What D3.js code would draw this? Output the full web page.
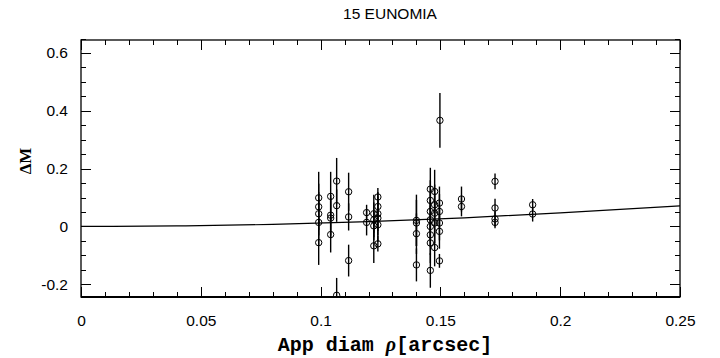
<!DOCTYPE html>
<html><head><meta charset="utf-8">
<script src="https://cdn.jsdelivr.net/npm/d3@7"></script>
<style>body{margin:0;background:#fff}svg{display:block}</style>
</head><body>
<script>
// ---- data ----
const title = "15 EUNOMIA";
const xLabel = "App diam ";
const yLabel = "ΔM";
const xTickVals = [0, 0.05, 0.1, 0.15, 0.2, 0.25];
const xTickLabels = ["0", "0.05", "0.1", "0.15", "0.2", "0.25"];
const yTickVals = [-0.2, 0, 0.2, 0.4, 0.6];
const yTickLabels = ["-0.2", "0", "0.2", "0.4", "0.6"];
const rho = [
  0.0992,0.0992,0.0992,0.0992,0.0992,
  0.1042,0.1042,0.1042,0.1042,
  0.1067,0.1067,0.1067,
  0.1117,0.1117,0.1117,
  0.1192,0.1192,
  0.1222,0.1222,0.1222,0.1222,
  0.1239,0.1239,0.1239,0.1239,0.1239,0.1239,
  0.140,0.140,0.140,0.140,
  0.1458,0.1458,0.1458,0.1458,0.1458,0.1458,0.1458,0.1458,
  0.1476,0.1476,0.1476,0.1476,0.1476,
  0.1496,0.1496,0.1496,0.1496,0.1496,
  0.1498,
  0.1588,0.1588,
  0.1728,0.1728,0.1728,0.1728,
  0.1885,0.1885
];
const dM = [
  0.099,0.068,0.044,0.014,-0.056,
  0.104,0.039,0.029,-0.028,
  0.157,0.072,-0.238,
  0.120,0.033,-0.118,
  0.048,0.014,
  0.044,0.023,0.002,-0.067,
  0.102,0.069,0.044,0.029,0.006,-0.060,
  0.021,0.012,-0.025,-0.133,
  0.129,0.090,0.052,0.023,0.000,-0.029,-0.057,-0.152,
  0.121,0.075,0.046,0.012,-0.073,
  0.081,0.052,0.012,-0.017,-0.119,
  0.367,
  0.095,0.069,
  0.156,0.064,0.026,0.014,
  0.075,0.043
];
const err = [
  0.090,0.080,0.075,0.080,0.077,
  0.085,0.070,0.070,0.062,
  0.080,0.056,0.060,
  0.066,0.047,0.055,
  0.027,0.045,
  0.066,0.060,0.050,0.059,
  0.031,0.050,0.060,0.060,0.060,0.027,
  0.089,0.080,0.070,0.057,
  0.074,0.070,0.070,0.070,0.070,0.070,0.070,0.060,
  0.075,0.070,0.070,0.070,0.065,
  0.057,0.060,0.060,0.060,0.024,
  0.095,
  0.043,0.034,
  0.027,0.032,0.026,0.020,
  0.020,0.026
];
// model curve
const curveRho = [0, 0.04, 0.08, 0.12, 0.16, 0.2, 0.25];
const curveDM  = [0, 0.002, 0.007, 0.017, 0.030, 0.047, 0.071];

// ---- layout ----
const W = 720, H = 358;
const L = 81, R = 680, T = 40, B = 297;
const x = d3.scaleLinear().domain([0, 0.25]).range([L, R]);
const y = d3.scaleLinear().domain([-0.244, 0.645]).range([B, T]);

const svg = d3.select("body").append("svg").attr("width", W).attr("height", H);
const font = "'Liberation Sans', Arial, Helvetica, sans-serif";

svg.append("defs").append("clipPath").attr("id", "clip")
  .append("rect").attr("x", L).attr("y", T).attr("width", R - L).attr("height", B - T);

// ticks: minor + major, all four sides, inward
const xMinor = d3.range(0, 0.2501, 0.01);
const yMinor = d3.range(-0.2, 0.6501, 0.05);
const tg = svg.append("g").attr("stroke", "#000").attr("stroke-width", 1);
function isMajor(v, step) { return Math.abs(v / step - Math.round(v / step)) < 1e-6; }
xMinor.forEach(v => {
  const len = isMajor(v, 0.05) ? 10 : 5;
  const px = Math.round(x(v)) + 0.5;
  tg.append("line").attr("x1", px).attr("x2", px).attr("y1", B).attr("y2", B - len);
  tg.append("line").attr("x1", px).attr("x2", px).attr("y1", T).attr("y2", T + len);
});
yMinor.forEach(v => {
  const len = isMajor(v, 0.2) ? 10 : 5;
  const py = Math.round(y(v)) + 0.5;
  tg.append("line").attr("x1", L).attr("x2", L + len).attr("y1", py).attr("y2", py);
  tg.append("line").attr("x1", R).attr("x2", R - len).attr("y1", py).attr("y2", py);
});

// frame
svg.append("rect").attr("x", L).attr("y", T).attr("width", R - L).attr("height", B - T)
  .attr("fill", "none").attr("stroke", "#000").attr("stroke-width", 1.3);
svg.append("line").attr("x1", L).attr("x2", R).attr("y1", B).attr("y2", B)
  .attr("stroke", "#000").attr("stroke-width", 2.2);

// axes labels via d3 axes (no domain path / tick lines)
const xAxis = d3.axisBottom(x).tickValues(xTickVals).tickFormat((d, i) => xTickLabels[i]).tickSize(0).tickPadding(0);
const gx = svg.append("g").attr("transform", `translate(0,${B + 18})`).call(xAxis);
gx.select(".domain").remove();
gx.selectAll("text").attr("font-family", font).attr("font-size", 15.5).attr("fill", "#000");

const yAxis = d3.axisLeft(y).tickValues(yTickVals).tickFormat((d, i) => yTickLabels[i]).tickSize(0).tickPadding(0);
const gy = svg.append("g").attr("transform", `translate(${L - 13},0)`).call(yAxis);
gy.select(".domain").remove();
gy.selectAll("text").attr("font-family", font).attr("font-size", 15.5).attr("fill", "#000");

// curve
const pts = curveRho.map((r, i) => [r, curveDM[i]]);
svg.append("path").attr("clip-path", "url(#clip)")
  .attr("d", d3.line().x(d => x(d[0])).y(d => y(d[1])).curve(d3.curveMonotoneX)(pts))
  .attr("fill", "none").attr("stroke", "#000").attr("stroke-width", 1.2);

// error bars + points
const data = rho.map((r, i) => ({ r, m: dM[i], e: err[i] }));
const pg = svg.append("g").attr("clip-path", "url(#clip)");
pg.selectAll("line.eb").data(data).enter().append("line").attr("class", "eb")
  .attr("x1", d => x(d.r)).attr("x2", d => x(d.r))
  .attr("y1", d => y(d.m + d.e)).attr("y2", d => y(d.m - d.e))
  .attr("stroke", "#000").attr("stroke-width", 1.4);
pg.selectAll("circle").data(data).enter().append("circle")
  .attr("cx", d => x(d.r)).attr("cy", d => y(d.m)).attr("r", 3.2)
  .attr("fill", "none").attr("stroke", "#000").attr("stroke-width", 1);

// title
svg.append("text").attr("x", 390).attr("y", 19).attr("text-anchor", "middle")
  .attr("font-family", font).attr("font-size", 15.5).text(title);

// x label
const xl = svg.append("text").attr("x", 385).attr("y", 351).attr("text-anchor", "middle")
  .attr("font-family", "'Liberation Mono', 'DejaVu Sans Mono', monospace").attr("font-size", 20)
  .attr("font-weight", "bold");
xl.append("tspan").text(xLabel);
xl.append("tspan").attr("font-family", "'Liberation Serif', serif").attr("font-style", "italic").text("ρ");
xl.append("tspan").text("[arcsec]");

// y label
svg.append("text").attr("transform", "translate(31,161) rotate(-90)").attr("text-anchor", "middle")
  .attr("font-family", "'Liberation Serif', 'DejaVu Serif', serif").attr("font-weight", "bold")
  .attr("font-size", 17).text(yLabel);
</script>
</body></html>
